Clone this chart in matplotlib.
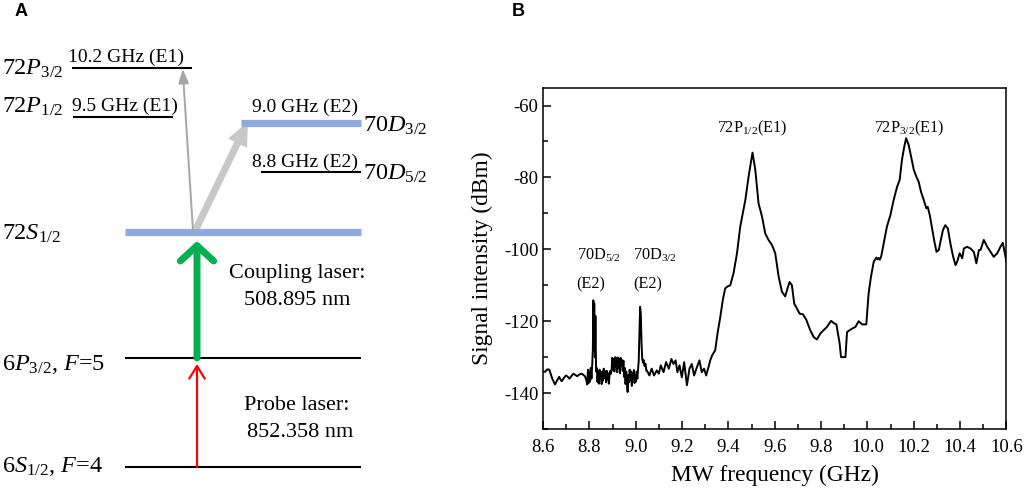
import matplotlib
matplotlib.use('Agg')
import matplotlib.pyplot as plt
from matplotlib.ticker import MultipleLocator, FormatStrFormatter

plt.rcParams['font.family'] = 'Liberation Serif'
plt.rcParams['mathtext.fontset'] = 'custom'
plt.rcParams['mathtext.rm'] = 'Liberation Serif'
plt.rcParams['mathtext.it'] = 'Liberation Serif:italic'
plt.rcParams['axes.unicode_minus'] = False

# panel B: MW spectrum (GHz, dBm)
freq = [8.600, 8.609, 8.618, 8.627, 8.640, 8.652, 8.661, 8.670, 8.676, 8.681,
        8.690, 8.699, 8.706, 8.714, 8.722, 8.731, 8.740, 8.748, 8.757, 8.767,
        8.775, 8.781, 8.787, 8.791, 8.794, 8.797, 8.800, 8.803, 8.806, 8.809,
        8.812, 8.815, 8.817, 8.819, 8.821, 8.824, 8.826, 8.829, 8.832, 8.835,
        8.838, 8.841, 8.844, 8.847, 8.850, 8.853, 8.856, 8.859, 8.862, 8.866,
        8.869, 8.872, 8.875, 8.878, 8.881, 8.884, 8.887, 8.890, 8.893, 8.896,
        8.899, 8.902, 8.905, 8.908, 8.911, 8.914, 8.917, 8.920, 8.923, 8.926,
        8.929, 8.932, 8.935, 8.938, 8.941, 8.944, 8.947, 8.950, 8.953, 8.956,
        8.959, 8.962, 8.965, 8.968, 8.971, 8.974, 8.977, 8.980, 8.983, 8.986,
        8.989, 8.992, 8.995, 8.998, 9.001, 9.004, 9.007, 9.010, 9.013, 9.016,
        9.019, 9.022, 9.025, 9.028, 9.031, 9.034, 9.038, 9.042, 9.046, 9.048,
        9.059, 9.069, 9.079, 9.091, 9.100, 9.108, 9.120, 9.131, 9.143, 9.154,
        9.163, 9.172, 9.180, 9.189, 9.199, 9.209, 9.221, 9.232, 9.242, 9.252,
        9.264, 9.275, 9.285, 9.295, 9.304, 9.314, 9.321, 9.330, 9.343, 9.354,
        9.365, 9.376, 9.386, 9.397, 9.408, 9.422, 9.437, 9.451, 9.462, 9.473,
        9.487, 9.504, 9.516, 9.530, 9.545, 9.559, 9.573, 9.588, 9.602, 9.617,
        9.631, 9.645, 9.655, 9.664, 9.674, 9.684, 9.696, 9.707, 9.722, 9.736,
        9.753, 9.768, 9.782, 9.797, 9.811, 9.825, 9.843, 9.854, 9.866, 9.880,
        9.886, 9.905, 9.912, 9.933, 9.948, 9.962, 9.977, 9.995, 10.005, 10.015,
        10.027, 10.038, 10.043, 10.048, 10.053, 10.059, 10.070, 10.084, 10.099, 10.113,
        10.128, 10.139, 10.149, 10.159, 10.167, 10.178, 10.188, 10.200, 10.211, 10.221,
        10.231, 10.243, 10.254, 10.260, 10.269, 10.279, 10.289, 10.298, 10.308, 10.315,
        10.326, 10.336, 10.347, 10.358, 10.370, 10.380, 10.387, 10.398, 10.409, 10.416,
        10.430, 10.445, 10.459, 10.470, 10.481, 10.488, 10.502, 10.517, 10.531, 10.545,
        10.560, 10.574, 10.584, 10.593, 10.600]
signal = [-134.0, -134.1, -133.4, -133.5, -136.0, -137.6, -136.4, -135.5, -136.3, -136.7,
          -135.8, -135.1, -135.4, -136.0, -135.3, -134.6, -135.0, -135.3, -134.8, -134.6,
          -135.0, -135.3, -136.5, -137.6, -133.5, -137.2, -134.0, -136.8, -133.0, -136.0,
          -132.5, -128.0, -114.2, -126.0, -115.0, -130.0, -118.5, -134.0, -133.0, -136.9,
          -134.0, -137.4, -133.5, -136.0, -134.5, -137.5, -134.0, -136.5, -133.2, -135.8,
          -134.0, -137.0, -133.8, -136.2, -134.5, -137.4, -135.0, -133.8, -134.6, -133.5,
          -130.2, -133.5, -130.5, -134.0, -130.0, -132.8, -130.3, -134.2, -130.1, -133.0,
          -130.6, -134.5, -130.2, -132.5, -130.8, -133.8, -131.0, -135.5, -133.0, -137.5,
          -134.0, -136.8, -139.7, -135.0, -137.0, -133.5, -136.5, -134.0, -138.0, -134.5,
          -136.0, -133.6, -137.2, -135.0, -136.8, -134.0, -136.0, -133.5, -131.0, -124.0,
          -116.0, -118.0, -126.0, -130.5, -131.5, -130.8, -132.5, -131.8, -133.8, -133.7,
          -135.1, -133.2, -135.1, -133.7, -134.6, -132.3, -134.2, -131.4, -133.2, -130.5,
          -131.9, -130.9, -134.2, -132.3, -135.6, -131.4, -137.8, -133.2, -131.9, -135.1,
          -132.8, -130.9, -134.2, -133.2, -135.1, -132.8, -131.0, -129.5, -128.1, -123.0,
          -118.8, -114.0, -110.9, -110.3, -110.0, -106.7, -101.1, -93.7, -90.0, -86.3,
          -79.8, -73.1, -77.9, -87.2, -90.9, -95.6, -97.4, -98.8, -101.1, -107.7,
          -111.8, -113.1, -110.9, -109.1, -110.0, -115.1, -116.5, -117.9, -118.1, -119.6,
          -122.5, -124.4, -125.1, -123.4, -122.5, -121.6, -119.9, -120.5, -120.9, -126.2,
          -130.0, -130.0, -123.0, -122.1, -121.6, -120.0, -120.9, -120.9, -112.3, -107.7,
          -103.5, -102.3, -102.8, -102.4, -102.9, -102.1, -98.4, -93.7, -90.5, -86.3,
          -82.6, -80.7, -75.1, -71.4, -69.1, -71.0, -74.2, -77.9, -79.8, -81.2,
          -84.0, -86.3, -88.6, -88.2, -90.5, -94.2, -97.9, -100.7, -100.2, -97.9,
          -94.6, -93.3, -94.2, -98.4, -102.1, -104.4, -103.5, -101.1, -102.5, -99.8,
          -99.3, -99.8, -100.7, -103.9, -100.2, -100.2, -97.4, -99.3, -100.7, -102.1,
          -101.1, -99.3, -98.2, -101.1, -103.5]

peak_labels = ['72P$_{1/2}$(E1)', '72P$_{3/2}$(E1)']
peak_freq = [9.503, 10.178]
weak_labels = ['70D$_{5/2}$', '70D$_{3/2}$']
weak_freq = [8.745, 8.989]

# panel A: energy levels (drawn in pixel units)
black_levels = [(72, 192, 67.7), (73, 173, 116.7), (261, 361, 172.3),
                (125, 361, 358.3), (125, 361, 467.3)]
blue_levels = [(241, 361, 123.3), (125, 361, 231.7)]
left_names = [r'$72P_{3/2}$', r'$72P_{1/2}$', r'$72S_{1/2}$',
              r'$6P_{3/2}$, $F$=5', r'$6S_{1/2}$, $F$=4']
left_y = [75, 113, 240, 370, 472]
right_names = [r'$70D_{3/2}$', r'$70D_{5/2}$']
right_y = [132, 180]
mw_text = ['10.2 GHz (E1)', '9.5 GHz (E1)', '9.0 GHz (E2)', '8.8 GHz (E2)']
mw_pos = [(68, 61.5), (72, 111), (252, 111.5), (252, 166.5)]

fig = plt.figure(figsize=(10.24, 4.92), dpi=100)

ax_a = fig.add_axes([0, 0, 0.45, 1])
ax_a.set_xlim(0, 460.8)
ax_a.set_ylim(492, 0)
ax_a.axis('off')

for x0, x1, y in black_levels:
    ax_a.plot([x0, x1], [y, y], color='black', lw=1.5, solid_capstyle='butt')
for x0, x1, y in blue_levels:
    ax_a.plot([x0, x1], [y, y], color='#8faadc', lw=5.2, solid_capstyle='butt')

for name, y in zip(left_names, left_y):
    ax_a.text(2, y, name, fontsize=17.5, ha='left', va='baseline')
for name, y in zip(right_names, right_y):
    ax_a.text(363, y, name, fontsize=17.5, ha='left', va='baseline')
for t, (x, y) in zip(mw_text, mw_pos):
    ax_a.text(x, y, t, fontsize=14, ha='left', va='baseline')

# microwave transitions
ax_a.arrow(196, 229, 248 - 196, 121.5 - 229, width=7, head_width=21,
           head_length=24, length_includes_head=True, color='#c8c8c8', lw=0)
ax_a.annotate('', xy=(182.7, 69), xytext=(193, 231),
              arrowprops=dict(arrowstyle='-|>,head_length=0.6,head_width=0.22',
                              color='#a6a6a6', lw=1.4, shrinkA=0, shrinkB=0,
                              mutation_scale=14))
# lasers
ax_a.annotate('', xy=(197, 241), xytext=(197, 358),
              arrowprops=dict(arrowstyle='->,head_length=0.55,head_width=0.6',
                              color='#00b050', lw=5, shrinkA=0, shrinkB=0,
                              mutation_scale=20, capstyle='round', joinstyle='round'))
ax_a.annotate('', xy=(197, 364), xytext=(197, 467),
              arrowprops=dict(arrowstyle='->,head_length=0.45,head_width=0.28',
                              color='#ff0000', lw=1.6, shrinkA=0, shrinkB=0,
                              mutation_scale=20))
ax_a.text(297, 278, 'Coupling laser:', fontsize=16, ha='center', va='baseline')
ax_a.text(297, 305, '508.895 nm', fontsize=16, ha='center', va='baseline')
ax_a.text(297, 410, 'Probe laser:', fontsize=16, ha='center', va='baseline')
ax_a.text(300, 437, '852.358 nm', fontsize=16, ha='center', va='baseline')

# panel B
ax_b = fig.add_axes([0.5303, 0.1280, 0.4526, 0.6941])
ax_b.plot(freq, signal, color='black', lw=1.4)
ax_b.set_xlim(8.6, 10.6)
ax_b.set_ylim(-150, -55)
ax_b.xaxis.set_major_locator(MultipleLocator(0.2))
ax_b.xaxis.set_minor_locator(MultipleLocator(0.1))
ax_b.xaxis.set_major_formatter(FormatStrFormatter('%.1f'))
ax_b.yaxis.set_major_locator(MultipleLocator(20))
ax_b.yaxis.set_minor_locator(MultipleLocator(10))
ax_b.tick_params(which='both', direction='in', top=False, right=False, width=1.1)
ax_b.tick_params(which='major', length=6, labelsize=13.5)
ax_b.tick_params(which='minor', length=3.5)
ax_b.tick_params(axis='x', pad=7)
ax_b.tick_params(axis='y', pad=3.5)
for sp in ax_b.spines.values():
    sp.set_linewidth(1.1)
ax_b.set_xlabel('MW frequency (GHz)', fontsize=16.8)
ax_b.set_ylabel('Signal intensity (dBm)', fontsize=16.8)
ax_b.xaxis.set_label_coords(0.5, -0.105)
ax_b.yaxis.set_label_coords(-0.107, 0.5)

for t, f in zip(peak_labels, peak_freq):
    ax_b.text(f, -67.5, t, fontsize=11.7, ha='center', va='baseline')
for t, f in zip(weak_labels, weak_freq):
    ax_b.text(f, -103.0, t, fontsize=11.7, ha='left', va='baseline')
    ax_b.text(f, -110.8, '(E2)', fontsize=11.7, ha='left', va='baseline')

fig.text(15 / 1024, 1 - 3 / 492, 'A', fontsize=13, fontweight='bold',
         family='Liberation Sans', ha='left', va='top')
fig.text(512 / 1024, 1 - 3 / 492, 'B', fontsize=13, fontweight='bold',
         family='Liberation Sans', ha='left', va='top')

fig.savefig('out.png', dpi=100)
